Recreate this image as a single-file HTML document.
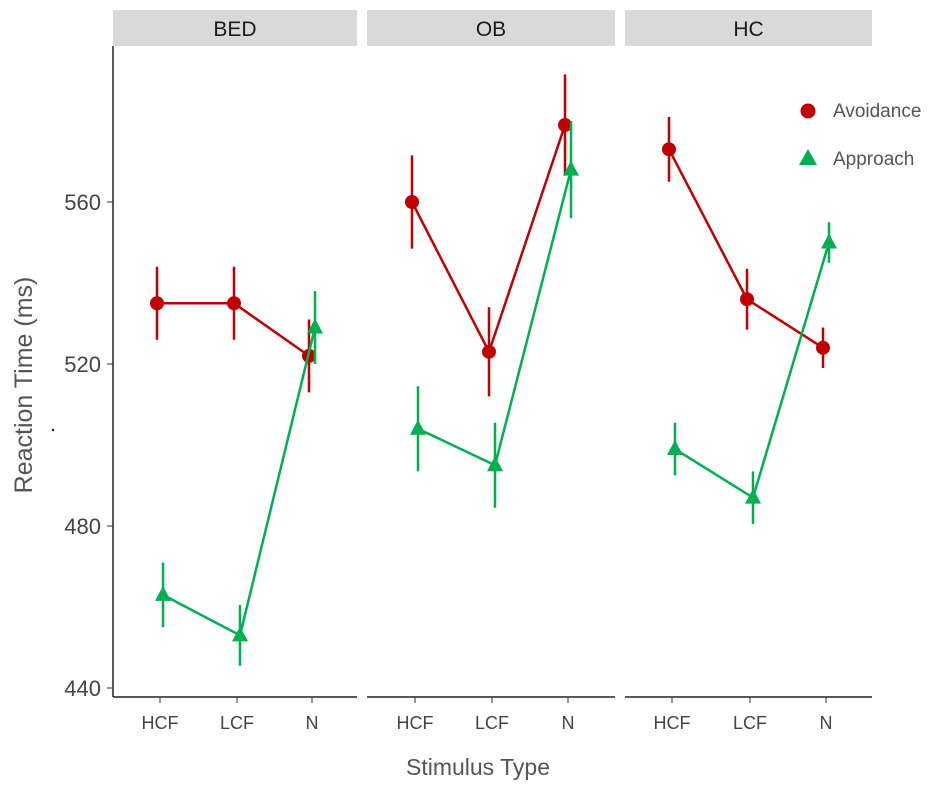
<!DOCTYPE html>
<html><head><meta charset="utf-8"><style>
body{margin:0;background:#fff;}
svg{display:block;font-family:"Liberation Sans",sans-serif;}
</style></head><body>
<svg id="chart" width="945" height="786"></svg>
<script>
const panels=["BED","OB","HC"];
const categories=["HCF","LCF","N"];
const avoidance=[[535,535,522],[560,523,579],[573,536,524]];
const avoidanceErr=[[9,9,9],[11.5,11,12.5],[8,7.5,5]];
const approach=[[463,453,529],[504,495,568],[499,487,550]];
const approachErr=[[8,7.5,9],[10.5,10.5,12],[6.5,6.5,5]];
const yTicks=[440,480,520,560];
const NS="http://www.w3.org/2000/svg";
const svg=document.getElementById("chart");
function mk(t,a,p){const e=document.createElementNS(NS,t);for(const k in a)e.setAttribute(k,a[k]);(p||svg).appendChild(e);return e;}
function y(v){return 688-(v-440)*(688-364)/(520-440);}
const panelX=[[113,357],[367,615],[625,872]];
const catX=[[160,237,312],[415,492,568],[672,750,826]];
function x(p,i){return catX[p][i];}
const ya=mk("line",{x1:113,y1:46,x2:113,y2:697,stroke:"#222","stroke-width":1.5});


yTicks.forEach(t=>{
 const tk=mk("line",{x1:107,x2:113,y1:y(t),y2:y(t),stroke:"#333"});
 
 
 const l=mk("text",{x:101,y:y(t)+8,"text-anchor":"end","font-size":22,fill:"#444"});
 l.textContent=t;
 
 
});
const dot=mk("circle",{cx:53,cy:430,r:1.2,fill:"#113"});


const yt=mk("text",{x:32,y:385,"text-anchor":"middle","font-size":25,fill:"#555",transform:"rotate(-90 32 385)"});
yt.textContent="Reaction Time (ms)";


const xt=mk("text",{x:478,y:775,"text-anchor":"middle","font-size":23,fill:"#555"});
xt.textContent="Stimulus Type";


panels.forEach((pn,p)=>{
 const [a,b]=panelX[p];
 const s=mk("rect",{x:a,y:10,width:b-a,height:36,fill:"#d9d9d9"});
 
 
 const st=mk("text",{x:(a+b)/2,y:36,"text-anchor":"middle","font-size":21,fill:"#1a1a1a"});
 st.textContent=pn;
 
 
 const xa=mk("line",{x1:a,x2:b,y1:697,y2:697,stroke:"#222","stroke-width":1.5});
 
 
 categories.forEach((c,i)=>{
  const tk=mk("line",{x1:x(p,i),x2:x(p,i),y1:697,y2:703,stroke:"#333"});
  
  
  const l=mk("text",{x:x(p,i),y:729,"text-anchor":"middle","font-size":18,fill:"#444"});
  l.textContent=c;
  
  
 });
 [[avoidance,avoidanceErr,"#c00000","avoidance",-3],[approach,approachErr,"#00b050","approach",3]].forEach(([vals,errs,col,nm,dx])=>{
  const pts=vals[p].map((v,i)=>(x(p,i)+dx)+","+y(v)).join(" ");
  const ln=mk("polyline",{points:pts,fill:"none",stroke:col,"stroke-width":2.5});
  
  
  vals[p].forEach((v,i)=>{
   const e=errs[p][i];
   const cx=x(p,i)+dx,cy=y(v);
   const eb=mk("line",{x1:cx,x2:cx,y1:y(v+e),y2:y(v-e),stroke:col,"stroke-width":2.5});
   
   
   let m;
   if(nm==="avoidance") m=mk("circle",{cx:cx,cy:cy,r:7,fill:col});
   else m=mk("polygon",{points:`${cx},${cy-9} ${cx-8},${cy+6} ${cx+8},${cy+6}`,fill:col});
   
   
  });
 });
});
const lc=mk("circle",{cx:808,cy:111,r:7.5,fill:"#c00000"});


const l1=mk("text",{x:833,y:117,"font-size":19,fill:"#555"});
l1.textContent="Avoidance";


const lt=mk("polygon",{points:"808,149 799,165 817,165",fill:"#00b050"});


const l2=mk("text",{x:833,y:165,"font-size":19,fill:"#555"});
l2.textContent="Approach";


</script>
</body></html>
